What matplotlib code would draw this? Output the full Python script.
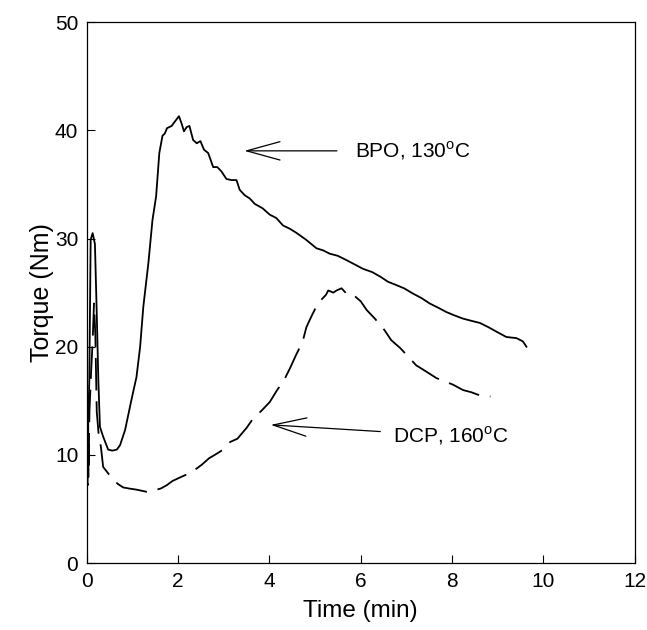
import matplotlib
matplotlib.use('Agg')
import matplotlib.pyplot as plt

plt.rcParams['font.family'] = ['Liberation Sans', 'DejaVu Sans']
plt.rcParams['mathtext.fontset'] = 'custom'
plt.rcParams['mathtext.rm'] = 'Liberation Sans'

# BPO, 130 C (linea continua)
bpo_t = [0.0, 0.02, 0.04, 0.057, 0.087, 0.13, 0.18, 0.22, 0.255, 0.29,
         0.36, 0.47, 0.56, 0.66, 0.73, 0.84, 0.98, 1.09, 1.17, 1.24,
         1.35, 1.44, 1.52, 1.59, 1.66, 1.71, 1.76, 1.86, 1.93, 2.02,
         2.08, 2.13, 2.19, 2.25, 2.33, 2.41, 2.49, 2.57, 2.66, 2.77,
         2.86, 2.95, 3.06, 3.17, 3.28, 3.35, 3.46, 3.57, 3.68, 3.85,
         4.01, 4.15, 4.30, 4.45, 4.60, 4.80, 5.03, 5.18, 5.32, 5.50,
         5.69, 5.87, 6.05, 6.25, 6.42, 6.60, 6.78, 6.95, 7.15, 7.33,
         7.51, 7.70, 7.88, 8.05, 8.24, 8.42, 8.61, 8.80, 8.97, 9.19,
         9.41, 9.55, 9.63]
bpo_torque = [12.5, 15.0, 14.0, 16.9, 29.9, 30.5, 29.5, 23.1, 16.9, 12.6,
              11.7, 10.5, 10.4, 10.5, 10.9, 12.3, 15.1, 17.2, 20.0, 23.7,
              27.7, 31.7, 33.9, 37.9, 39.5, 39.7, 40.2, 40.4, 40.8, 41.3,
              40.6, 39.9, 40.3, 40.4, 39.1, 38.8, 39.0, 38.2, 37.9, 36.6,
              36.6, 36.2, 35.5, 35.4, 35.4, 34.5, 34.0, 33.7, 33.2, 32.8,
              32.2, 31.9, 31.2, 30.9, 30.5, 29.9, 29.1, 28.9, 28.6, 28.4,
              28.0, 27.6, 27.2, 26.9, 26.5, 26.0, 25.7, 25.4, 24.9, 24.5,
              24.0, 23.6, 23.2, 22.9, 22.6, 22.4, 22.2, 21.8, 21.4, 20.9,
              20.8, 20.5, 20.0]

# DCP, 160 C (linea discontinua)
dcp_t = [0.0, 0.01, 0.02, 0.03, 0.04, 0.06, 0.10, 0.13, 0.16, 0.19,
         0.22, 0.27, 0.31, 0.36, 0.47, 0.58, 0.69, 0.80, 0.93, 1.09,
         1.31, 1.45, 1.62, 1.75, 1.88, 2.03, 2.19, 2.36, 2.52, 2.68,
         2.84, 2.99, 3.14, 3.30, 3.50, 3.65, 3.83, 4.01, 4.17, 4.32,
         4.45, 4.58, 4.73, 4.81, 4.92, 5.05, 5.15, 5.24, 5.29, 5.40,
         5.47, 5.58, 5.69, 5.81, 6.00, 6.13, 6.31, 6.51, 6.67, 6.86,
         7.04, 7.21, 7.40, 7.66, 8.02, 8.24, 8.42, 8.61, 8.84]
dcp_torque = [7.0, 15.2, 7.2, 15.0, 8.0, 14.0, 18.0, 20.5, 24.0, 21.0,
              14.0, 11.5, 10.8, 8.9, 8.3, 7.7, 7.3, 7.0, 6.9, 6.8,
              6.6, 6.7, 6.9, 7.2, 7.6, 7.9, 8.2, 8.6, 9.1, 9.7,
              10.1, 10.5, 11.2, 11.5, 12.5, 13.4, 14.1, 14.9, 16.0, 16.9,
              18.0, 19.2, 20.5, 21.8, 22.8, 23.9, 24.4, 24.8, 25.2, 25.0,
              25.2, 25.4, 24.9, 24.9, 24.2, 23.4, 22.6, 21.6, 20.6, 19.9,
              19.1, 18.3, 17.8, 17.1, 16.5, 16.0, 15.8, 15.5, 15.4]

fig = plt.figure(figsize=(6.47, 6.30), dpi=100)
ax = fig.add_axes([0.134, 0.106, 0.847, 0.859])

ax.plot(bpo_t, bpo_torque, color='black', lw=1.3)
ax.plot(dcp_t, dcp_torque, color='black', lw=1.3, linestyle=(0, (18, 6)))

# Flechas y etiquetas
flecha = dict(arrowstyle='->, head_length=1.2, head_width=0.33',
              color='black', lw=0.9, mutation_scale=20)
ax.annotate('', xy=(3.39, 38.1), xytext=(5.54, 38.1), arrowprops=flecha)
ax.annotate('', xy=(3.97, 12.8), xytext=(6.49, 12.15), arrowprops=flecha)
ax.text(5.87, 38.1, 'BPO, 130$^{\\mathrm{o}}$C', fontsize=15, va='center', ha='left')
ax.text(6.70, 11.75, 'DCP, 160$^{\\mathrm{o}}$C', fontsize=15, va='center', ha='left')

ax.set_xlim(0, 12)
ax.set_ylim(0, 50)
ax.set_xticks([0, 2, 4, 6, 8, 10, 12])
ax.set_yticks([0, 10, 20, 30, 40, 50])
ax.tick_params(direction='in', length=6, width=0.8, labelsize=15, pad=6)
for s in ax.spines.values():
    s.set_linewidth(0.9)

ax.set_xlabel('Time (min)', fontsize=17.5, labelpad=7)
ax.set_ylabel('Torque (Nm)', fontsize=18, labelpad=1)

fig.savefig('out.png', dpi=100)
